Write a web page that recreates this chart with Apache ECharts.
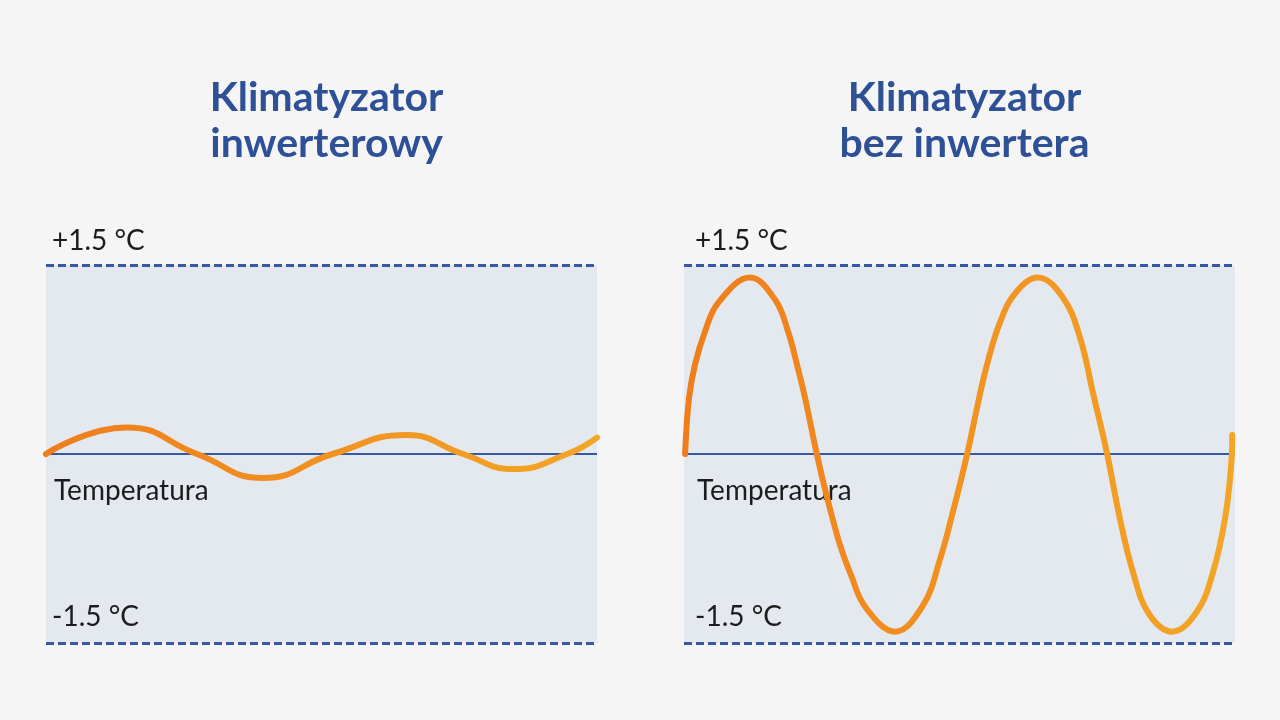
<!DOCTYPE html>
<html>
<head>
<meta charset="utf-8">
<script src="https://cdn.jsdelivr.net/npm/echarts@6/dist/echarts.min.js"></script>
<style>
  html, body { margin: 0; padding: 0; background: #f5f5f5; }
  #chart { width: 1280px; height: 720px; }
</style>
</head>
<body>
<div id="chart"></div>
<script>
// position along each panel (0..100) and temperature deviation in °C
const inverterX = [0, 14.7, 27.4, 39.4, 52.0, 65.5, 75.7, 84.8, 94.6, 100];
const inverterY = [0, 0.21, 0, -0.19, 0, 0.15, 0, -0.12, 0, 0.13];

const classicX = [0.2, 0.9, 2.0, 3.8, 6.2, 12.0, 16.6, 18.9, 20.5, 22.0, 24.1, 26.0, 28.3, 30.3, 33.0,
  38.3, 43.4, 46.5, 48.8, 51.4, 53.2, 55.0, 57.4, 60.2, 64.2, 68.8, 71.9, 74.2, 76.8,
  79.1, 81.5, 84.4, 88.6, 93.1, 96.0, 98.2, 99.3, 99.5];
const classicY = [0, 0.44, 0.71, 0.97, 1.2, 1.40, 1.22, 0.97, 0.71, 0.44, 0, -0.35, -0.72, -0.96, -1.22,
  -1.41, -1.2, -0.83, -0.46, 0, 0.37, 0.71, 1.05, 1.28, 1.40, 1.24, 0.92, 0.49, 0,
  -0.51, -0.94, -1.27, -1.41, -1.25, -0.94, -0.51, -0.09, 0.15];

const titles = ['Klimatyzator\ninwerterowy', 'Klimatyzator\nbez inwertera'];
const upperLabel = '+1.5 °C';
const lowerLabel = '-1.5 °C';
const axisLabel = 'Temperatura';

const blue = '#3559a4';
const panelLeft = [46, 684];
const labelInset = [6, 11];
const panelW = 551;

function pairs(xs, ys) {
  return xs.map((x, i) => [x, ys[i]]);
}

function curve(idx, data, smooth) {
  return {
    type: 'line',
    xAxisIndex: idx,
    yAxisIndex: idx,
    data: data,
    smooth: smooth,
    showSymbol: false,
    z: 5,
    lineStyle: {
      width: 6,
      cap: 'round',
      join: 'round',
      color: new echarts.graphic.LinearGradient(0, 0, 1, 0, [
        { offset: 0, color: '#ef7d1c' },
        { offset: 1, color: '#f3a626' }
      ])
    },
    markLine: {
      silent: true,
      symbol: 'none',
      label: { show: false },
      z: 2,
      data: [
        { yAxis: 1.5, lineStyle: { color: blue, width: 3, type: [8, 4] } },
        { yAxis: -1.5, lineStyle: { color: blue, width: 3, type: [8, 4] } },
        { yAxis: 0, lineStyle: { color: blue, width: 2, type: 'solid' } }
      ]
    }
  };
}

const textStyle = { fontFamily: 'Lato', fill: '#1c1c1c', fontSize: 28 };
const graphics = [];
panelLeft.forEach(function (x0, i) {
  const l = x0 + labelInset[i];
  graphics.push({ type: 'text', left: l, top: 227, style: Object.assign({ text: upperLabel }, textStyle) });
  graphics.push({ type: 'text', left: l + 2, top: 477, style: Object.assign({ text: axisLabel }, textStyle) });
  graphics.push({ type: 'text', left: l, top: 603, style: Object.assign({ text: lowerLabel }, textStyle) });
});

const chart = echarts.init(document.getElementById('chart'));
chart.setOption({
  backgroundColor: '#f5f5f5',
  animation: false,
  title: titles.map((t, i) => ({
    text: t,
    left: panelLeft[i] + panelW / 2,
    top: 70,
    textAlign: 'center',
    textStyle: {
      fontFamily: 'Lato',
      fontWeight: 'bold',
      fontSize: 41,
      lineHeight: 46,
      color: '#2d5096'
    }
  })),
  grid: panelLeft.map(l => ({
    left: l,
    width: panelW,
    top: 265,
    height: 378,
    show: true,
    backgroundColor: '#e4e9f0',
    borderWidth: 0
  })),
  xAxis: [0, 1].map(i => ({
    type: 'value', gridIndex: i, min: 0, max: 100, show: false
  })),
  yAxis: [0, 1].map(i => ({
    type: 'value', gridIndex: i, min: -1.5, max: 1.5, show: false
  })),
  graphic: graphics,
  series: [
    curve(0, pairs(inverterX, inverterY), 0.5),
    curve(1, pairs(classicX, classicY), 0.4)
  ]
});
</script>
</body>
</html>
